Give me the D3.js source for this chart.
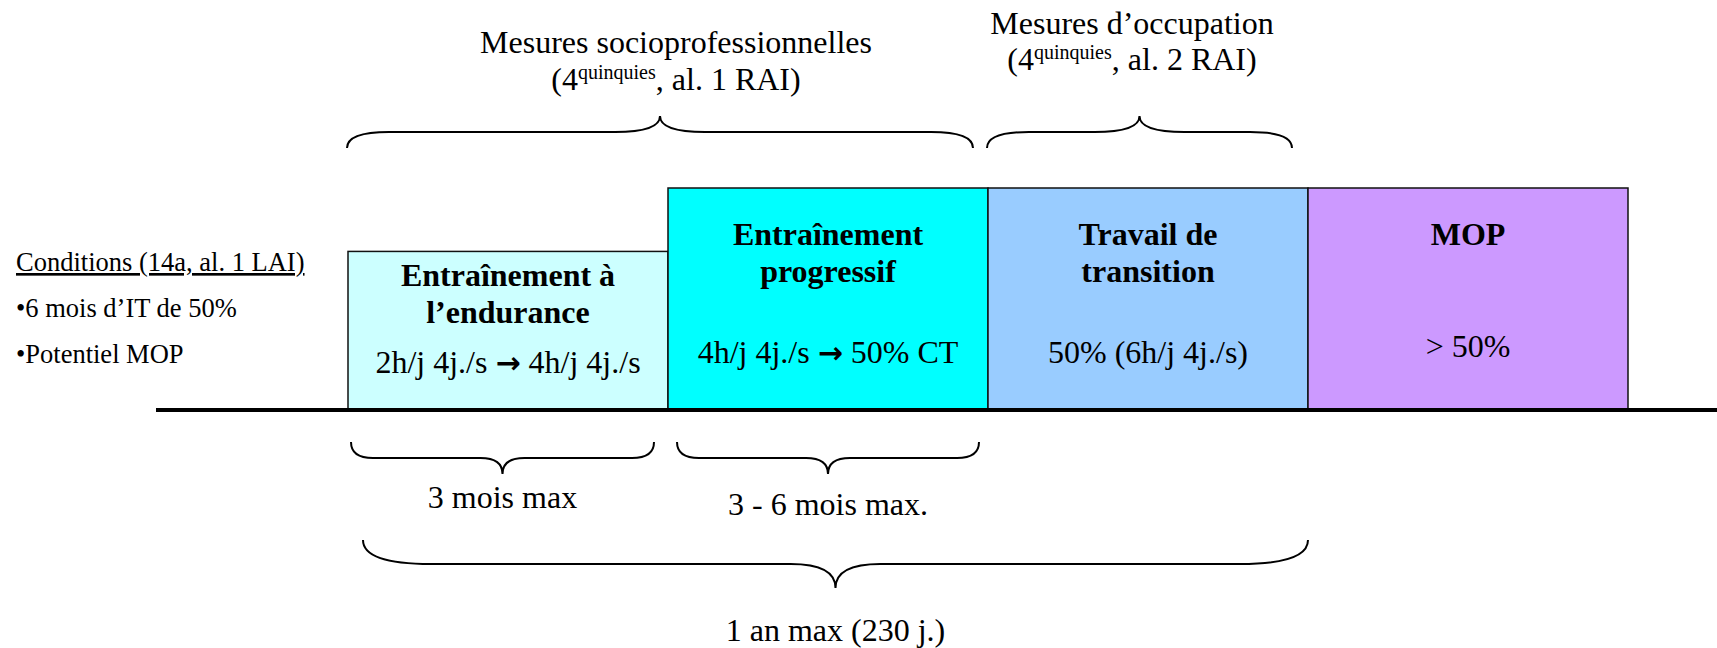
<!DOCTYPE html>
<html>
<head>
<meta charset="utf-8">
<script src="https://cdn.jsdelivr.net/npm/d3@7"></script>
<style>
  html, body { margin: 0; padding: 0; background: #fff; }
  svg { display: block; }
  text { font-family: "Liberation Serif", "Times New Roman", serif; fill: #000; }
  .arrow { font-family: "DejaVu Sans", sans-serif; font-weight: bold; }
</style>
</head>
<body>
<svg id="chart" width="1717" height="648"></svg>
<script>
// Phases of the measure, left to right
const PHASES = ['endurance', 'progressif', 'transition', 'mop'];
const PHASE_TITLES = [
  ['Entraînement à', 'l’endurance'],
  ['Entraînement', 'progressif'],
  ['Travail de', 'transition'],
  ['MOP']
];
// [before arrow, after arrow] ; null after = no arrow
const PHASE_RATES = [
  ['2h/j 4j./s', '4h/j 4j./s'],
  ['4h/j 4j./s', '50% CT'],
  ['50% (6h/j 4j./s)', null],
  ['> 50%', null]
];
// relative height of each block
const PHASE_LEVELS = [1, 1.4, 1.4, 1.4];
const PHASE_COLORS = ['#ccffff', '#00ffff', '#99ccff', '#cc99ff'];

// groups above the blocks: [first phase, last phase]
const TOP_SPANS = [[0, 1], [2, 2]];
const TOP_LABELS = [
  { title: 'Mesures socioprofessionnelles', ref: ['(4', 'quinquies', ', al. 1 RAI)'] },
  { title: 'Mesures d’occupation', ref: ['(4', 'quinquies', ', al. 2 RAI)'] }
];

// durations under the blocks
const BOTTOM_SPANS = [[0, 0], [1, 1], [0, 2]];
const BOTTOM_LABELS = ['3 mois max', '3 - 6 mois max.', '1 an max (230 j.)'];

const CONDITIONS = ['Conditions (14a, al. 1 LAI)', '•6 mois d’IT de 50%', '•Potentiel MOP'];

const FONT_SIZE = 32;

const svg = d3.select('#chart');

const x = d3.scaleBand().domain(PHASES).range([348, 1628]).padding(0);
const y = d3.scaleLinear().domain([0, 1.4]).range([410, 188]);

/*
 * Curly brace path. dir = -1 : tip pointing up, dir = 1 : tip pointing down.
 */
function bracePath(x0, x1, yEnd, depth, dir, endW, tipW) {
  const xm = (x0 + x1) / 2;
  const yLine = yEnd + dir * depth;
  const yTip = yLine + dir * depth;
  const p = d3.path();
  p.moveTo(x0, yEnd);
  p.quadraticCurveTo(x0, yLine, x0 + endW, yLine);
  p.lineTo(xm - tipW, yLine);
  p.quadraticCurveTo(xm, yLine, xm, yTip);
  p.quadraticCurveTo(xm, yLine, xm + tipW, yLine);
  p.lineTo(x1 - endW, yLine);
  p.quadraticCurveTo(x1, yLine, x1, yEnd);
  return p.toString();
}

// blocks
const blocks = svg.append('g').selectAll('g')
  .data(PHASES)
  .enter()
  .append('g');

blocks.append('rect')
  .attr('x', d => x(d))
  .attr('y', (d, i) => y(PHASE_LEVELS[i]))
  .attr('width', x.bandwidth())
  .attr('height', (d, i) => y(0) - y(PHASE_LEVELS[i]))
  .attr('fill', (d, i) => PHASE_COLORS[i])
  .attr('stroke', '#111')
  .attr('stroke-width', 1.5);

blocks.each(function (d, i) {
  const g = d3.select(this);
  const cx = x(d) + x.bandwidth() / 2;
  const top = y(PHASE_LEVELS[i]);
  const lowBlock = PHASE_LEVELS[i] < 1.2;
  const titleY = top + (lowBlock ? 35 : 57);
  PHASE_TITLES[i].forEach((line, k) => {
    g.append('text')
      .attr('x', cx)
      .attr('y', titleY + k * 37)
      .attr('text-anchor', 'middle')
      .attr('font-size', FONT_SIZE)
      .attr('font-weight', 'bold')
      .text(line);
  });
  const rate = PHASE_RATES[i];
  const t = g.append('text')
    .attr('x', cx)
    .attr('y', lowBlock ? 373 : (PHASE_TITLES[i].length > 1 ? 363 : 357))
    .attr('text-anchor', 'middle')
    .attr('font-size', FONT_SIZE);
  t.append('tspan').text(rate[0]);
  if (rate[1]) {
    t.append('tspan').text(' ');
    t.append('tspan').attr('class', 'arrow').attr('font-size', 30).text('→');
    t.append('tspan').text(' ' + rate[1]);
  }
});

// time line
svg.append('line')
  .attr('x1', 156)
  .attr('x2', 1717)
  .attr('y1', y(0))
  .attr('y2', y(0))
  .attr('stroke', '#000')
  .attr('stroke-width', 4);

// braces above
TOP_SPANS.forEach((s, i) => {
  const x0 = x(PHASES[s[0]]) - 1;
  const x1 = x(PHASES[s[1]]) + x.bandwidth() - (i === 0 ? 15 : 16);
  svg.append('path')
    .attr('d', bracePath(x0, x1, 148, 16, -1, 42, 45))
    .attr('fill', 'none')
    .attr('stroke', '#000')
    .attr('stroke-width', 2);
});

const topLabelX = [676, 1132];
const topLabelY = [[53, 90], [34, 70]];
TOP_LABELS.forEach((lab, i) => {
  svg.append('text')
    .attr('x', topLabelX[i])
    .attr('y', topLabelY[i][0])
    .attr('text-anchor', 'middle')
    .attr('font-size', FONT_SIZE)
    .text(lab.title);
  const t = svg.append('text')
    .attr('x', topLabelX[i])
    .attr('y', topLabelY[i][1])
    .attr('text-anchor', 'middle')
    .attr('font-size', FONT_SIZE);
  t.append('tspan').text(lab.ref[0]);
  t.append('tspan').attr('font-size', 20).attr('dy', -11).text(lab.ref[1]);
  t.append('tspan').attr('dy', 11).text(lab.ref[2]);
});

// braces below
const bottomGeo = [
  { in0: 3, in1: 14, yEnd: 442, depth: 16, endW: 22, tipW: 22, labelY: 508 },
  { in0: 9, in1: 9, yEnd: 442, depth: 16, endW: 22, tipW: 22, labelY: 515 },
  { in0: 15, in1: 0, yEnd: 540, depth: 24, endW: 68, tipW: 45, labelY: 641 }
];
BOTTOM_SPANS.forEach((s, i) => {
  const g = bottomGeo[i];
  const x0 = x(PHASES[s[0]]) + g.in0;
  const x1 = x(PHASES[s[1]]) + x.bandwidth() - g.in1;
  svg.append('path')
    .attr('d', bracePath(x0, x1, g.yEnd, g.depth, 1, g.endW, g.tipW))
    .attr('fill', 'none')
    .attr('stroke', '#000')
    .attr('stroke-width', 2);
  svg.append('text')
    .attr('x', (x0 + x1) / 2)
    .attr('y', g.labelY)
    .attr('text-anchor', 'middle')
    .attr('font-size', FONT_SIZE)
    .text(BOTTOM_LABELS[i]);
});

// conditions on the left
svg.append('g').selectAll('text')
  .data(CONDITIONS)
  .enter()
  .append('text')
    .attr('x', 16)
    .attr('y', (d, i) => 271 + i * 46)
    .attr('font-size', 26.5)
    .attr('text-decoration', (d, i) => i === 0 ? 'underline' : null)
    .text(d => d);
</script>
</body>
</html>
